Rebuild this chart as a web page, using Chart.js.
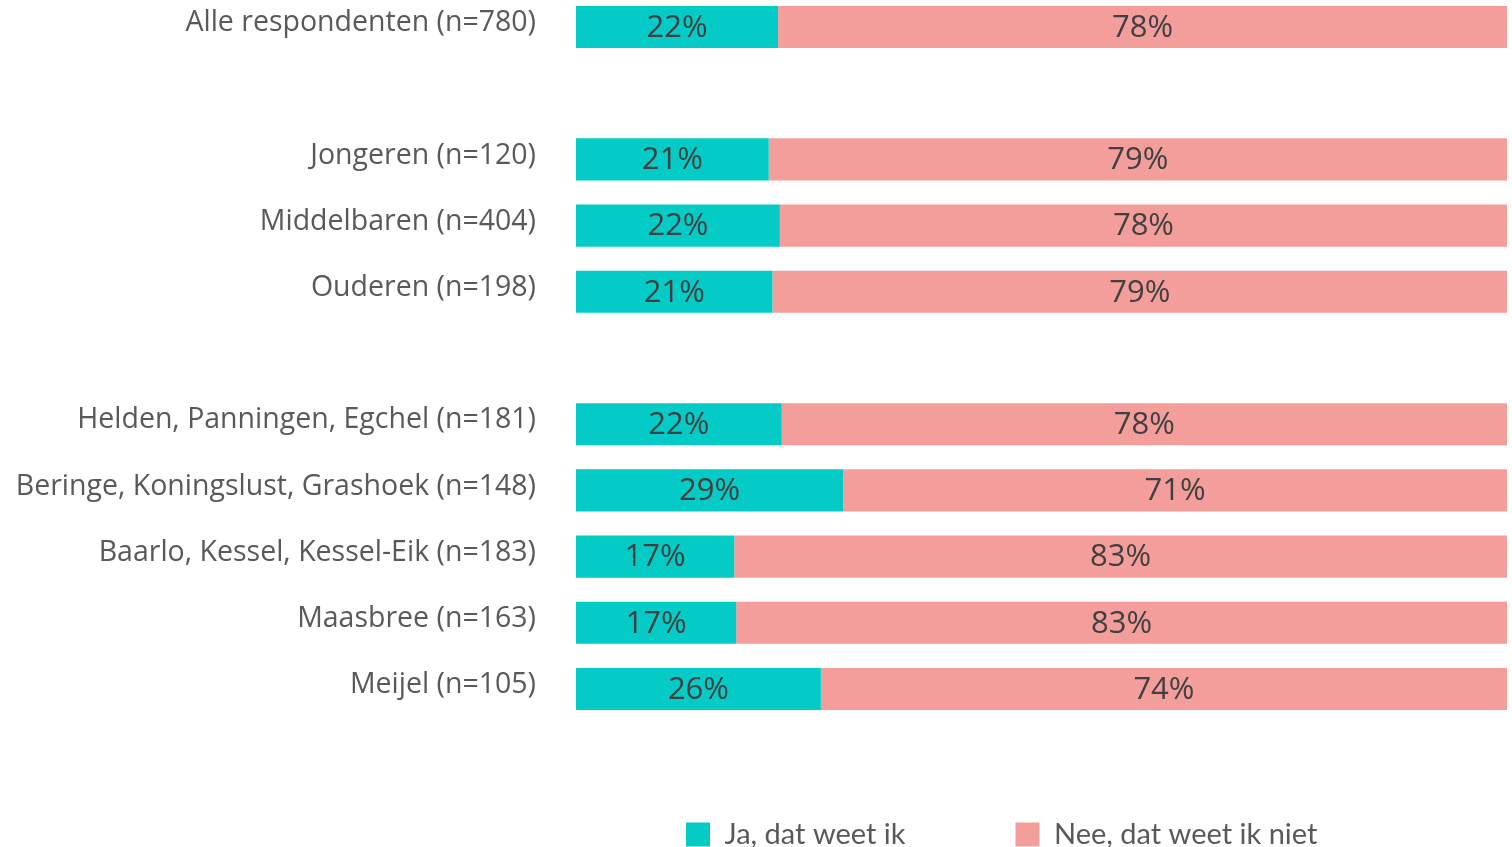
<!DOCTYPE html>
<html>
<head>
<meta charset="utf-8">
<script src="https://cdn.jsdelivr.net/npm/chart.js@4.4.1/dist/chart.umd.min.js"></script>
<style>
    body { margin: 0; background: #fff; }
    #wrap { width: 1512px; height: 847px; }
</style>
</head>
<body>
<div id="wrap"><canvas id="myChart"></canvas></div>
<script>
// rows incl. two empty spacer rows
const categories = [
    'Alle respondenten (n=780)',
    '',
    'Jongeren (n=120)',
    'Middelbaren (n=404)',
    'Ouderen (n=198)',
    '',
    'Helden, Panningen, Egchel (n=181)',
    'Beringe, Koningslust, Grashoek (n=148)',
    'Baarlo, Kessel, Kessel-Eik (n=183)',
    'Maasbree (n=163)',
    'Meijel (n=105)'
];
const seriesNames = ['Ja, dat weet ik', 'Nee, dat weet ik niet'];
const jaValues = [21.7, null, 20.7, 21.9, 21.1, null, 22.1, 28.7, 17.0, 17.2, 26.3];
const neeValues = [78.3, null, 79.3, 78.1, 78.9, null, 77.9, 71.3, 83.0, 82.8, 73.7];

const TEAL = '#05cbc7';
const PINK = '#f49e9c';

// draws the % in the middle of each segment
const barLabels = {
    id: 'barLabels',
    afterDatasetsDraw(chart) {
        const ctx = chart.ctx;
        ctx.save();
        ctx.font = '31px "Open Sans"';
        ctx.fillStyle = '#404040';
        ctx.textAlign = 'center';
        ctx.textBaseline = 'middle';
        chart.data.datasets.forEach((ds, i) => {
            chart.getDatasetMeta(i).data.forEach((bar, j) => {
                const v = ds.data[j];
                if (v === null) return;
                const p = bar.getCenterPoint();
                ctx.fillText(Math.round(v) + '%', p.x, p.y + 1);
            });
        });
        ctx.restore();
    }
};

const ctx = document.getElementById('myChart').getContext('2d');
const myChart = new Chart(ctx, {
    type: 'bar',
    data: {
        labels: categories,
        datasets: [
            {label: seriesNames[0], data: jaValues, backgroundColor: TEAL, clip: false},
            {label: seriesNames[1], data: neeValues, backgroundColor: PINK, clip: false}
        ]
    },
    options: {
        indexAxis: 'y',
        responsive: true,
        maintainAspectRatio: false,
        animation: false,
        events: [],
        barPercentage: 0.636,
        categoryPercentage: 1,
        layout: {
            padding: {top: 27, right: 5, bottom: -12, left: 0}
        },
        scales: {
            x: {
                stacked: true,
                min: 0,
                max: 100,
                grid: {display: false},
                border: {display: false},
                ticks: {display: false},
                afterFit: function (scale) { scale.height = 21; }
            },
            y: {
                stacked: true,
                offset: false,
                grid: {display: false, drawTicks: false},
                border: {display: false},
                ticks: {
                    padding: 40,
                    labelOffset: -4,
                    color: '#595959',
                    font: {family: 'Open Sans', size: 28.5}
                },
                afterFit: function (scale) {
                    scale.width = 576;
                    scale.paddingTop = 0;
                    scale.paddingBottom = 0;
                }
            }
        },
        plugins: {
            legend: {
                position: 'bottom',
                align: 'start',
                fullSize: false,
                labels: {
                    boxWidth: 24,
                    boxHeight: 24,
                    padding: 110,
                    color: '#595959',
                    font: {family: 'Lato', size: 29}
                }
            },
            tooltip: {enabled: false}
        }
    },
    plugins: [barLabels]
});
</script>
</body>
</html>
